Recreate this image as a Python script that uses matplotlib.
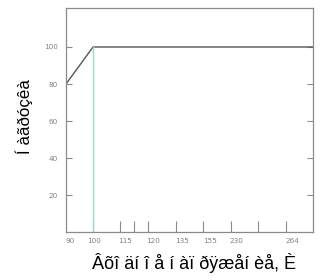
import matplotlib
matplotlib.use("Agg")
import matplotlib.pyplot as plt

# data
voltage = [90, 100, 182]
load = [80, 100, 100]
marker_x = 100
marker_y = 100

x_tick_marks = [100, 110, 115.2, 120.4, 130.7, 140.7, 151.1, 161.1, 171.5]
x_label_pos = [91.5, 100.4, 111.9, 122.2, 133, 143.3, 153.3, 174]
x_label_text = ["90", "100", "115", "120", "135", "155", "230", "264"]
y_ticks = [20, 40, 60, 80, 100]
y_tick_text = ["20", "40", "60", "80", "100"]

fig = plt.figure(figsize=(3.22, 2.80), dpi=100)
ax = fig.add_axes([0.205, 0.171, 0.767, 0.800])
ax.set_xlim(90, 181.5)
ax.set_ylim(0, 121)

ax.plot(voltage, load, color="#555555", lw=1.0, clip_on=True)
ax.plot([marker_x, marker_x], [0, marker_y], color="#9fd8cf", lw=1.0)

for s in ax.spines.values():
    s.set_color("#8a8a8a")
    s.set_linewidth(0.9)

ax.set_xticks(x_tick_marks, minor=True)
ax.tick_params(axis="x", which="minor", direction="in", length=8, color="#8a8a8a", width=0.8)
ax.set_xticks(x_label_pos)
ax.set_xticklabels(x_label_text)
ax.tick_params(axis="x", which="major", length=0, pad=4, labelsize=5.2, labelcolor="#808080")

ax.set_yticks(y_ticks)
ax.set_yticklabels(y_tick_text)
ax.tick_params(axis="y", direction="in", length=4, color="#8a8a8a", width=0.8,
               right=True, pad=6, labelsize=5.2, labelcolor="#808080")

ax.set_xlabel("Âõî äí î å í àï ðÿæåí èå, È", fontsize=13, family="Liberation Sans")
ax.xaxis.set_label_coords(0.518, -0.094)
ax.set_ylabel("Í àãðóçêà", fontsize=12.2, family="Liberation Sans")
ax.yaxis.set_label_coords(-0.134, 0.518)

fig.savefig("out.png", dpi=100)
